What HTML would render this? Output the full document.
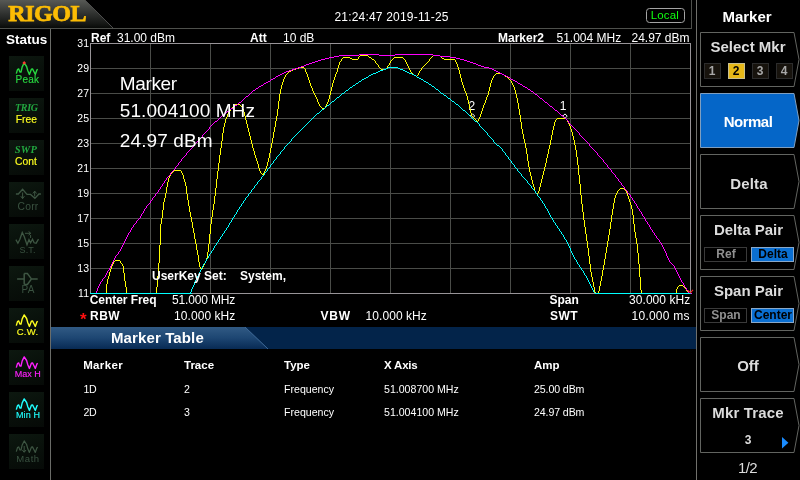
<!DOCTYPE html>
<html><head><meta charset="utf-8"><title>RIGOL Marker</title>
<style>
html,body{margin:0;padding:0;background:#000;}
body{width:800px;height:480px;position:relative;overflow:hidden;font-family:"Liberation Sans",sans-serif;}
.t{position:absolute;white-space:nowrap;line-height:1;}
.a{position:absolute;}
.sb{position:absolute;left:9px;width:35px;height:35px;background:linear-gradient(160deg,#0d1810 0%,#09110b 45%,#060a07 100%);}
</style></head><body>
<div class="sb" style="top:56px"></div><div class="sb" style="top:98px"></div><div class="sb" style="top:140px"></div><div class="sb" style="top:182px"></div><div class="sb" style="top:224px"></div><div class="sb" style="top:266px"></div><div class="sb" style="top:308px"></div><div class="sb" style="top:350px"></div><div class="sb" style="top:392px"></div><div class="sb" style="top:434px"></div>
<svg class="a" style="left:0;top:0" width="800" height="480" viewBox="0 0 800 480">
<defs><linearGradient id="lg" x1="0" y1="0" x2="0" y2="1"><stop offset="0" stop-color="#575955"/><stop offset="0.5" stop-color="#2f312f"/><stop offset="0.85" stop-color="#151715"/><stop offset="1" stop-color="#080a08"/></linearGradient>
<linearGradient id="mt" x1="0" y1="0" x2="0" y2="1"><stop offset="0" stop-color="#315a84"/><stop offset="0.5" stop-color="#1d4672"/><stop offset="1" stop-color="#082a54"/></linearGradient></defs>
<polygon points="0,0 85,0 113,28 0,28" fill="url(#lg)"/><line x1="85" y1="0" x2="113.5" y2="28.5" stroke="#4c4c4c" stroke-width="1"/>
<rect x="0" y="28" width="692" height="1" fill="#4e504c"/>
<rect x="691" y="0" width="1" height="29" fill="#4e504c"/>
<rect x="50" y="29" width="1" height="451" fill="#6a6c68"/>
<rect x="696" y="0" width="1" height="480" fill="#70706c"/>
<rect x="646.5" y="8.5" width="38" height="14" rx="3" ry="3" fill="#000" stroke="#a4a4a4" stroke-width="1"/>
<rect x="51" y="327" width="645" height="22" fill="#03244a"/>
<polygon points="51,327 245,327 268,349 51,349" fill="url(#mt)"/>
<line x1="245" y1="327" x2="268" y2="349" stroke="#3f6a98" stroke-width="1"/>
<rect x="150" y="43" width="1" height="250" fill="#4a4c48"/>
<rect x="90" y="68" width="600" height="1" fill="#4a4c48"/>
<rect x="210" y="43" width="1" height="250" fill="#4a4c48"/>
<rect x="90" y="93" width="600" height="1" fill="#4a4c48"/>
<rect x="270" y="43" width="1" height="250" fill="#4a4c48"/>
<rect x="90" y="118" width="600" height="1" fill="#4a4c48"/>
<rect x="330" y="43" width="1" height="250" fill="#4a4c48"/>
<rect x="90" y="143" width="600" height="1" fill="#4a4c48"/>
<rect x="390" y="43" width="1" height="250" fill="#4a4c48"/>
<rect x="90" y="168" width="600" height="1" fill="#4a4c48"/>
<rect x="450" y="43" width="1" height="250" fill="#4a4c48"/>
<rect x="90" y="193" width="600" height="1" fill="#4a4c48"/>
<rect x="510" y="43" width="1" height="250" fill="#4a4c48"/>
<rect x="90" y="218" width="600" height="1" fill="#4a4c48"/>
<rect x="570" y="43" width="1" height="250" fill="#4a4c48"/>
<rect x="90" y="243" width="600" height="1" fill="#4a4c48"/>
<rect x="630" y="43" width="1" height="250" fill="#4a4c48"/>
<rect x="90" y="268" width="600" height="1" fill="#4a4c48"/>
<rect x="90" y="43" width="601" height="1" fill="#989498"/>
<rect x="90" y="293" width="601" height="1" fill="#989498"/>
<rect x="90" y="43" width="1" height="251" fill="#989498"/>
<rect x="690" y="43" width="1" height="251" fill="#989498"/>
<polygon points="472.5,113.8 474.7,116 472.5,118.2 470.3,116" fill="none" stroke="#fff" stroke-width="1"/>
<polygon points="565,113.9 567.2,116.1 565,118.3 562.8,116.1" fill="none" stroke="#fff" stroke-width="1"/>
<text x="468.6" y="110" font-family="Liberation Sans, sans-serif" font-size="12" fill="#fff">2</text>
<text x="559.8" y="110" font-family="Liberation Sans, sans-serif" font-size="12" fill="#fff">1</text>
<g shape-rendering="crispEdges">
<path d="M106.5 284V294M107.5 279V284M108.5 276V279M109.5 272V276M110.5 269V272M111.5 266V269M112.5 264V266M113.5 262V264M114.5 261V262M115.5 260V261M116.5 260V261M117.5 260V261M118.5 260V261M119.5 260V261M120.5 261V263M121.5 263V264M122.5 264V266M123.5 266V273M124.5 273V281M125.5 281V287M126.5 287V293M127.5 293V294M128.5 293V294" fill="none" stroke="#ffff00" stroke-width="1"/>
<path d="M156.5 287V294M157.5 276V287M158.5 263V276M159.5 245V263M160.5 224V245M161.5 218V224M162.5 210V218M163.5 202V210M164.5 198V202M165.5 193V198M166.5 187V193M167.5 182V187M168.5 178V182M169.5 176V178M170.5 174V176M171.5 173V174M172.5 172V173M173.5 171V172M174.5 170V171M175.5 170V171M176.5 170V171M177.5 170V171M178.5 170V171M179.5 170V171M180.5 170V171M181.5 171V173M182.5 173V175M183.5 175V179M184.5 179V182M185.5 182V186M186.5 186V194M187.5 194V200M188.5 200V206M189.5 206V212M190.5 212V217M191.5 217V222M192.5 222V228M193.5 228V233M194.5 233V239M195.5 239V244M196.5 244V250M197.5 250V255M198.5 255V262M199.5 262V267M200.5 267V269M201.5 269V270M202.5 267V269M203.5 265V267M204.5 263V265M205.5 261V263M206.5 258V261M207.5 252V258M208.5 244V252M209.5 234V244M210.5 224V234M211.5 217V224M212.5 210V217M213.5 204V210M214.5 196V204M215.5 188V196M216.5 179V188M217.5 171V179M218.5 163V171M219.5 155V163M220.5 148V155M221.5 141V148M222.5 133V141M223.5 127V133M224.5 123V127M225.5 119V123M226.5 117V119M227.5 114V117M228.5 112V114M229.5 111V112M230.5 109V111M231.5 108V109M232.5 107V108M233.5 106V107M234.5 105V106M235.5 104V105M236.5 104V105M237.5 104V105M238.5 104V105M239.5 104V105M240.5 105V106M241.5 106V107M242.5 107V109M243.5 109V112M244.5 112V116M245.5 116V120M246.5 120V124M247.5 124V128M248.5 128V132M249.5 132V136M250.5 136V140M251.5 140V144M252.5 144V148M253.5 148V151M254.5 151V155M255.5 155V158M256.5 158V161M257.5 161V164M258.5 164V168M259.5 168V171M260.5 171V173M261.5 173V174M262.5 174V175M263.5 173V175M264.5 171V173M265.5 169V171M266.5 166V169M267.5 162V166M268.5 158V162M269.5 153V158M270.5 148V153M271.5 143V148M272.5 138V143M273.5 132V138M274.5 127V132M275.5 121V127M276.5 116V121M277.5 109V116M278.5 101V109M279.5 94V101M280.5 89V94M281.5 85V89M282.5 82V85M283.5 79V82M284.5 77V79M285.5 75V77M286.5 74V75M287.5 73V74M288.5 72V73M289.5 71V72M290.5 71V72M291.5 70V71M292.5 70V71M293.5 69V70M294.5 69V70M295.5 69V70M296.5 68V69M297.5 68V69M298.5 68V69M299.5 67V68M300.5 67V68M301.5 67V68M302.5 67V68M303.5 67V68M304.5 68V69M305.5 69V72M306.5 72V74M307.5 74V77M308.5 77V80M309.5 80V83M310.5 83V86M311.5 86V88M312.5 88V91M313.5 91V93M314.5 93V95M315.5 95V97M316.5 97V99M317.5 99V102M318.5 102V104M319.5 104V106M320.5 106V107M321.5 107V108M322.5 108V109M323.5 108V109M324.5 108V109M325.5 106V108M326.5 104V106M327.5 102V104M328.5 99V102M329.5 95V99M330.5 91V95M331.5 87V91M332.5 83V87M333.5 80V83M334.5 77V80M335.5 74V77M336.5 72V74M337.5 68V72M338.5 65V68M339.5 62V65M340.5 61V62M341.5 59V61M342.5 58V59M343.5 57V58M344.5 57V58M345.5 57V58M346.5 57V58M347.5 57V58M348.5 57V58M349.5 57V58M350.5 58V59M351.5 58V59M352.5 59V60M353.5 59V60M354.5 59V60M355.5 59V60M356.5 59V60M357.5 59V60M358.5 57V59M359.5 56V57M360.5 55V56M361.5 55V56M362.5 55V56M363.5 55V56M364.5 55V56M365.5 55V56M366.5 55V56M367.5 55V56M368.5 56V57M369.5 57V58M370.5 57V58M371.5 58V59M372.5 59V60M373.5 59V60M374.5 60V61M375.5 61V63M376.5 63V64M377.5 64V65M378.5 65V67M379.5 67V68M380.5 68V69M381.5 69V70M382.5 69V70M383.5 69V70M384.5 69V70M385.5 69V70M386.5 68V69M387.5 66V68M388.5 65V66M389.5 63V65M390.5 61V63M391.5 60V61M392.5 59V60M393.5 58V59M394.5 57V58M395.5 57V58M396.5 57V58M397.5 57V58M398.5 57V58M399.5 57V58M400.5 57V58M401.5 57V58M402.5 57V58M403.5 58V59M404.5 59V60M405.5 60V62M406.5 62V64M407.5 64V66M408.5 66V68M409.5 68V70M410.5 70V72M411.5 72V73M412.5 73V74M413.5 74V75M414.5 75V76M415.5 75V76M416.5 76V77M417.5 75V76M418.5 73V75M419.5 71V73M420.5 70V71M421.5 68V70M422.5 67V68M423.5 66V67M424.5 65V66M425.5 64V65M426.5 63V64M427.5 62V63M428.5 61V62M429.5 59V61M430.5 58V59M431.5 57V58M432.5 56V57M433.5 55V56M434.5 55V56M435.5 55V56M436.5 55V56M437.5 55V56M438.5 55V56M439.5 55V56M440.5 56V57M441.5 57V58M442.5 58V59M443.5 58V59M444.5 59V60M445.5 59V60M446.5 59V60M447.5 59V60M448.5 59V60M449.5 59V60M450.5 59V60M451.5 59V60M452.5 59V60M453.5 59V60M454.5 59V60M455.5 60V62M456.5 62V64M457.5 64V67M458.5 67V70M459.5 70V74M460.5 74V78M461.5 78V82M462.5 82V85M463.5 85V88M464.5 88V91M465.5 91V93M466.5 93V96M467.5 96V100M468.5 100V104M469.5 104V109M470.5 109V113M471.5 113V116M472.5 116V117M473.5 117V118M474.5 118V119M475.5 119V120M476.5 120V121M477.5 121V122M478.5 119V121M479.5 117V119M480.5 114V117M481.5 111V114M482.5 108V111M483.5 105V108M484.5 103V105M485.5 100V103M486.5 97V100M487.5 95V97M488.5 91V95M489.5 87V91M490.5 83V87M491.5 80V83M492.5 78V80M493.5 76V78M494.5 75V76M495.5 74V75M496.5 73V74M497.5 73V74M498.5 73V74M499.5 73V74M500.5 73V74M501.5 73V74M502.5 74V75M503.5 74V75M504.5 75V76M505.5 76V77M506.5 76V77M507.5 77V78M508.5 78V79M509.5 79V80M510.5 80V81M511.5 81V83M512.5 83V85M513.5 85V87M514.5 87V90M515.5 90V94M516.5 94V98M517.5 98V103M518.5 103V109M519.5 109V115M520.5 115V122M521.5 122V129M522.5 129V134M523.5 134V139M524.5 139V143M525.5 143V148M526.5 148V154M527.5 154V161M528.5 161V167M529.5 167V172M530.5 172V176M531.5 176V180M532.5 180V184M533.5 184V187M534.5 187V191M535.5 191V193M536.5 193V194M537.5 193V194M538.5 191V193M539.5 187V191M540.5 183V187M541.5 179V183M542.5 175V179M543.5 171V175M544.5 167V171M545.5 163V167M546.5 158V163M547.5 154V158M548.5 149V154M549.5 145V149M550.5 140V145M551.5 135V140M552.5 130V135M553.5 126V130M554.5 122V126M555.5 120V122M556.5 119V120M557.5 118V119M558.5 118V119M559.5 118V119M560.5 118V119M561.5 118V119M562.5 118V119M563.5 118V119M564.5 118V119M565.5 118V119M566.5 119V120M567.5 120V122M568.5 122V124M569.5 124V126M570.5 126V129M571.5 129V132M572.5 132V136M573.5 136V140M574.5 140V145M575.5 145V150M576.5 150V157M577.5 157V165M578.5 165V175M579.5 175V184M580.5 184V195M581.5 195V204M582.5 204V212M583.5 212V220M584.5 220V227M585.5 227V234M586.5 234V241M587.5 241V248M588.5 248V256M589.5 256V264M590.5 264V272M591.5 272V277M592.5 277V282M593.5 282V287M594.5 287V292M595.5 292V293M596.5 293V294" fill="none" stroke="#ffff00" stroke-width="1"/>
<path d="M597.5 293V294M598.5 291V294M599.5 286V291M600.5 281V286M601.5 276V281M602.5 270V276M603.5 265V270M604.5 259V265M605.5 253V259M606.5 247V253M607.5 241V247M608.5 235V241M609.5 229V235M610.5 222V229M611.5 215V222M612.5 209V215M613.5 203V209M614.5 198V203M615.5 195V198M616.5 193V195M617.5 191V193M618.5 190V191M619.5 189V190M620.5 188V189M621.5 188V189M622.5 188V189M623.5 188V189M624.5 189V190M625.5 190V191M626.5 191V193M627.5 193V196M628.5 196V199M629.5 199V202M630.5 202V205M631.5 205V209M632.5 209V215M633.5 215V224M634.5 224V232M635.5 232V238M636.5 238V244M637.5 244V253M638.5 253V264M639.5 264V277M640.5 277V290M641.5 290V293M642.5 293V294" fill="none" stroke="#ffff00" stroke-width="1"/>
<path d="M675.5 293V294M676.5 289V293M677.5 287V289M678.5 286V287M679.5 285V286M680.5 285V286M681.5 285V286M682.5 285V286M683.5 286V287M684.5 287V288M685.5 288V289M686.5 289V291M687.5 291V292M688.5 292V293M689.5 293V294M690.5 293V294" fill="none" stroke="#ffff00" stroke-width="1"/>
<path d="M94.5 293V294M95.5 293V294M96.5 291V294M97.5 288V291M98.5 286V288M99.5 284V286M100.5 282V284M101.5 281V282M102.5 279V281M103.5 278V279M104.5 277V278M105.5 275V277M106.5 273V275M107.5 271V273M108.5 270V271M109.5 268V270M110.5 266V268M111.5 264V266M112.5 262V264M113.5 260V262M114.5 258V260M115.5 256V258M116.5 255V256M117.5 254V255M118.5 252V254M119.5 251V252M120.5 249V251M121.5 247V249M122.5 245V247M123.5 243V245M124.5 241V243M125.5 239V241M126.5 237V239M127.5 235V237M128.5 233V235M129.5 232V233M130.5 230V232M131.5 228V230M132.5 227V228M133.5 225V227M134.5 224V225M135.5 223V224M136.5 221V223M137.5 220V221M138.5 219V220M139.5 218V219M140.5 216V218M141.5 214V216M142.5 213V214M143.5 211V213M144.5 209V211M145.5 208V209M146.5 206V208M147.5 205V206M148.5 204V205M149.5 203V204M150.5 201V203M151.5 200V201M152.5 198V200M153.5 197V198M154.5 196V197M155.5 194V196M156.5 193V194M157.5 192V193M158.5 190V192M159.5 189V190M160.5 187V189M161.5 186V187M162.5 184V186M163.5 183V184M164.5 181V183M165.5 180V181M166.5 178V180M167.5 177V178M168.5 176V177M169.5 175V176M170.5 173V175M171.5 172V173M172.5 171V172M173.5 170V171M174.5 169V170M175.5 167V169M176.5 166V167M177.5 165V166M178.5 163V165M179.5 162V163M180.5 161V162M181.5 159V161M182.5 158V159M183.5 157V158M184.5 156V157M185.5 155V156M186.5 153V155M187.5 152V153M188.5 151V152M189.5 150V151M190.5 149V150M191.5 148V149M192.5 147V148M193.5 146V147M194.5 144V146M195.5 143V144M196.5 142V143M197.5 141V142M198.5 140V141M199.5 139V140M200.5 138V139M201.5 137V138M202.5 135V137M203.5 134V135M204.5 133V134M205.5 132V133M206.5 131V132M207.5 130V131M208.5 129V130M209.5 127V129M210.5 126V127M211.5 125V126M212.5 124V125M213.5 123V124M214.5 122V123M215.5 121V122M216.5 121V122M217.5 120V121M218.5 119V120M219.5 118V119M220.5 117V118M221.5 116V117M222.5 115V116M223.5 114V115M224.5 114V115M225.5 113V114M226.5 112V113M227.5 111V112M228.5 111V112M229.5 110V111M230.5 109V110M231.5 108V109M232.5 108V109M233.5 107V108M234.5 106V107M235.5 105V106M236.5 105V106M237.5 104V105M238.5 103V104M239.5 102V103M240.5 102V103M241.5 101V102M242.5 100V101M243.5 99V100M244.5 98V99M245.5 97V98M246.5 96V97M247.5 96V97M248.5 95V96M249.5 94V95M250.5 93V94M251.5 92V93M252.5 91V92M253.5 90V91M254.5 90V91M255.5 89V90M256.5 88V89M257.5 88V89M258.5 87V88M259.5 86V87M260.5 86V87M261.5 85V86M262.5 85V86M263.5 84V85M264.5 83V84M265.5 83V84M266.5 82V83M267.5 82V83M268.5 81V82M269.5 81V82M270.5 80V81M271.5 79V80M272.5 79V80M273.5 78V79M274.5 78V79M275.5 77V78M276.5 76V77M277.5 76V77M278.5 75V76M279.5 75V76M280.5 74V75M281.5 74V75M282.5 73V74M283.5 73V74M284.5 72V73M285.5 72V73M286.5 71V72M287.5 71V72M288.5 71V72M289.5 70V71M290.5 70V71M291.5 70V71M292.5 69V70M293.5 69V70M294.5 69V70M295.5 68V69M296.5 68V69M297.5 68V69M298.5 67V68M299.5 67V68M300.5 67V68M301.5 66V67M302.5 66V67M303.5 66V67M304.5 65V66M305.5 65V66M306.5 64V65M307.5 64V65M308.5 64V65M309.5 63V64M310.5 63V64M311.5 63V64M312.5 62V63M313.5 62V63M314.5 62V63M315.5 61V62M316.5 61V62M317.5 61V62M318.5 60V61M319.5 60V61M320.5 60V61M321.5 59V60M322.5 59V60M323.5 59V60M324.5 59V60M325.5 58V59M326.5 58V59M327.5 58V59M328.5 58V59M329.5 57V58M330.5 57V58M331.5 57V58M332.5 57V58M333.5 57V58M334.5 56V57M335.5 56V57M336.5 56V57M337.5 56V57M338.5 56V57M339.5 55V56M340.5 55V56M341.5 55V56M342.5 55V56M343.5 55V56M344.5 55V56M345.5 55V56M346.5 55V56M347.5 55V56M348.5 55V56M349.5 55V56M350.5 55V56M351.5 55V56M352.5 55V56M353.5 55V56M354.5 55V56M355.5 55V56M356.5 55V56M357.5 55V56M358.5 55V56M359.5 54V55M360.5 54V55M361.5 54V55M362.5 54V55M363.5 54V55M364.5 54V55M365.5 54V55M366.5 54V55M367.5 54V55M368.5 54V55M369.5 54V55M370.5 54V55M371.5 54V55M372.5 54V55M373.5 54V55M374.5 54V55M375.5 54V55M376.5 54V55M377.5 54V55M378.5 54V55M379.5 55V56M380.5 55V56M381.5 55V56M382.5 55V56M383.5 55V56M384.5 55V56M385.5 55V56M386.5 55V56M387.5 55V56M388.5 55V56M389.5 55V56M390.5 55V56M391.5 55V56M392.5 55V56M393.5 55V56M394.5 55V56M395.5 54V55M396.5 54V55M397.5 54V55M398.5 54V55M399.5 54V55M400.5 54V55M401.5 54V55M402.5 54V55M403.5 54V55M404.5 54V55M405.5 54V55M406.5 54V55M407.5 54V55M408.5 54V55M409.5 54V55M410.5 54V55M411.5 54V55M412.5 54V55M413.5 54V55M414.5 54V55M415.5 54V55M416.5 54V55M417.5 54V55M418.5 54V55M419.5 54V55M420.5 54V55M421.5 54V55M422.5 54V55M423.5 54V55M424.5 54V55M425.5 54V55M426.5 54V55M427.5 54V55M428.5 54V55M429.5 54V55M430.5 54V55M431.5 54V55M432.5 54V55M433.5 55V56M434.5 55V56M435.5 55V56M436.5 55V56M437.5 55V56M438.5 55V56M439.5 55V56M440.5 56V57M441.5 56V57M442.5 56V57M443.5 56V57M444.5 56V57M445.5 56V57M446.5 56V57M447.5 56V57M448.5 56V57M449.5 56V57M450.5 57V58M451.5 57V58M452.5 57V58M453.5 57V58M454.5 57V58M455.5 57V58M456.5 58V59M457.5 58V59M458.5 58V59M459.5 58V59M460.5 59V60M461.5 59V60M462.5 59V60M463.5 59V60M464.5 60V61M465.5 60V61M466.5 60V61M467.5 61V62M468.5 61V62M469.5 61V62M470.5 62V63M471.5 62V63M472.5 62V63M473.5 63V64M474.5 63V64M475.5 63V64M476.5 64V65M477.5 64V65M478.5 65V66M479.5 65V66M480.5 65V66M481.5 66V67M482.5 66V67M483.5 66V67M484.5 67V68M485.5 67V68M486.5 67V68M487.5 67V68M488.5 67V68M489.5 68V69M490.5 68V69M491.5 68V69M492.5 69V70M493.5 69V70M494.5 70V71M495.5 70V71M496.5 71V72M497.5 71V72M498.5 72V73M499.5 72V73M500.5 73V74M501.5 73V74M502.5 74V75M503.5 74V75M504.5 75V76M505.5 75V76M506.5 76V77M507.5 76V77M508.5 77V78M509.5 77V78M510.5 78V79M511.5 79V80M512.5 79V80M513.5 80V81M514.5 80V81M515.5 81V82M516.5 81V82M517.5 82V83M518.5 83V84M519.5 83V84M520.5 84V85M521.5 84V85M522.5 85V86M523.5 86V87M524.5 86V87M525.5 87V88M526.5 87V88M527.5 88V89M528.5 89V90M529.5 89V90M530.5 90V91M531.5 91V92M532.5 91V92M533.5 92V93M534.5 93V94M535.5 94V95M536.5 94V95M537.5 95V96M538.5 96V97M539.5 97V98M540.5 98V99M541.5 98V99M542.5 99V100M543.5 100V101M544.5 101V102M545.5 102V103M546.5 102V103M547.5 103V104M548.5 104V105M549.5 105V106M550.5 106V107M551.5 106V107M552.5 107V108M553.5 108V109M554.5 109V110M555.5 110V111M556.5 110V111M557.5 111V112M558.5 112V113M559.5 113V114M560.5 114V115M561.5 115V116M562.5 115V116M563.5 116V117M564.5 117V118M565.5 118V119M566.5 119V120M567.5 120V121M568.5 121V123M569.5 123V124M570.5 124V125M571.5 125V126M572.5 126V127M573.5 127V128M574.5 128V129M575.5 129V130M576.5 130V131M577.5 131V132M578.5 132V133M579.5 133V135M580.5 135V136M581.5 136V137M582.5 137V138M583.5 138V139M584.5 139V140M585.5 140V141M586.5 141V142M587.5 142V143M588.5 143V144M589.5 144V146M590.5 146V147M591.5 147V148M592.5 148V149M593.5 149V150M594.5 150V151M595.5 151V152M596.5 152V153M597.5 153V155M598.5 155V156M599.5 156V157M600.5 157V158M601.5 158V159M602.5 159V160M603.5 160V162M604.5 162V163M605.5 163V164M606.5 164V165M607.5 165V167M608.5 167V168M609.5 168V169M610.5 169V170M611.5 170V172M612.5 172V173M613.5 173V174M614.5 174V175M615.5 175V177M616.5 177V178M617.5 178V179M618.5 179V181M619.5 181V182M620.5 182V183M621.5 183V185M622.5 185V186M623.5 186V187M624.5 187V189M625.5 189V190M626.5 190V191M627.5 191V193M628.5 193V194M629.5 194V195M630.5 195V197M631.5 197V198M632.5 198V200M633.5 200V201M634.5 201V203M635.5 203V204M636.5 204V206M637.5 206V208M638.5 208V209M639.5 209V211M640.5 211V212M641.5 212V214M642.5 214V216M643.5 216V217M644.5 217V219M645.5 219V221M646.5 221V222M647.5 222V224M648.5 224V225M649.5 225V227M650.5 227V229M651.5 229V230M652.5 230V232M653.5 232V233M654.5 233V235M655.5 235V236M656.5 236V238M657.5 238V239M658.5 239V240M659.5 240V242M660.5 242V243M661.5 243V245M662.5 245V247M663.5 247V249M664.5 249V251M665.5 251V253M666.5 253V256M667.5 256V258M668.5 258V260M669.5 260V262M670.5 262V263M671.5 263V264M672.5 264V265M673.5 265V266M674.5 266V268M675.5 268V270M676.5 270V272M677.5 272V274M678.5 274V276M679.5 276V278M680.5 278V280M681.5 280V282M682.5 282V283M683.5 283V285M684.5 285V287M685.5 287V288M686.5 288V290M687.5 290V291M688.5 291V293M689.5 293V294M690.5 293V294M691.5 293V294" fill="none" stroke="#ff00ff" stroke-width="1"/>
<path d="M187.5 293V294M188.5 293V294M189.5 293V294M190.5 292V294M191.5 289V292M192.5 287V289M193.5 285V287M194.5 282V285M195.5 280V282M196.5 278V280M197.5 276V278M198.5 274V276M199.5 272V274M200.5 270V272M201.5 268V270M202.5 266V268M203.5 264V266M204.5 263V264M205.5 261V263M206.5 259V261M207.5 258V259M208.5 256V258M209.5 254V256M210.5 253V254M211.5 251V253M212.5 250V251M213.5 248V250M214.5 246V248M215.5 245V246M216.5 243V245M217.5 242V243M218.5 240V242M219.5 239V240M220.5 237V239M221.5 236V237M222.5 234V236M223.5 233V234M224.5 231V233M225.5 230V231M226.5 228V230M227.5 227V228M228.5 225V227M229.5 223V225M230.5 222V223M231.5 220V222M232.5 218V220M233.5 217V218M234.5 215V217M235.5 214V215M236.5 212V214M237.5 210V212M238.5 209V210M239.5 207V209M240.5 206V207M241.5 204V206M242.5 203V204M243.5 201V203M244.5 200V201M245.5 198V200M246.5 197V198M247.5 196V197M248.5 194V196M249.5 193V194M250.5 192V193M251.5 190V192M252.5 189V190M253.5 188V189M254.5 186V188M255.5 185V186M256.5 184V185M257.5 182V184M258.5 181V182M259.5 180V181M260.5 179V180M261.5 177V179M262.5 176V177M263.5 175V176M264.5 173V175M265.5 172V173M266.5 171V172M267.5 169V171M268.5 168V169M269.5 167V168M270.5 165V167M271.5 164V165M272.5 163V164M273.5 161V163M274.5 160V161M275.5 159V160M276.5 157V159M277.5 156V157M278.5 155V156M279.5 154V155M280.5 152V154M281.5 151V152M282.5 150V151M283.5 149V150M284.5 147V149M285.5 146V147M286.5 145V146M287.5 144V145M288.5 143V144M289.5 142V143M290.5 141V142M291.5 139V141M292.5 138V139M293.5 137V138M294.5 136V137M295.5 135V136M296.5 134V135M297.5 133V134M298.5 132V133M299.5 131V132M300.5 130V131M301.5 129V130M302.5 128V129M303.5 127V128M304.5 126V127M305.5 125V126M306.5 124V125M307.5 123V124M308.5 122V123M309.5 121V122M310.5 120V121M311.5 119V120M312.5 118V119M313.5 117V118M314.5 116V117M315.5 115V116M316.5 114V115M317.5 113V114M318.5 113V114M319.5 112V113M320.5 111V112M321.5 110V111M322.5 109V110M323.5 109V110M324.5 108V109M325.5 107V108M326.5 106V107M327.5 105V106M328.5 105V106M329.5 104V105M330.5 103V104M331.5 102V103M332.5 101V102M333.5 101V102M334.5 100V101M335.5 99V100M336.5 98V99M337.5 97V98M338.5 97V98M339.5 96V97M340.5 95V96M341.5 94V95M342.5 93V94M343.5 93V94M344.5 92V93M345.5 91V92M346.5 90V91M347.5 90V91M348.5 89V90M349.5 88V89M350.5 87V88M351.5 87V88M352.5 86V87M353.5 85V86M354.5 85V86M355.5 84V85M356.5 83V84M357.5 83V84M358.5 82V83M359.5 81V82M360.5 81V82M361.5 80V81M362.5 79V80M363.5 79V80M364.5 78V79M365.5 78V79M366.5 77V78M367.5 77V78M368.5 76V77M369.5 75V76M370.5 75V76M371.5 74V75M372.5 74V75M373.5 73V74M374.5 73V74M375.5 73V74M376.5 72V73M377.5 72V73M378.5 71V72M379.5 71V72M380.5 70V71M381.5 70V71M382.5 70V71M383.5 69V70M384.5 69V70M385.5 69V70M386.5 68V69M387.5 68V69M388.5 67V68M389.5 67V68M390.5 67V68M391.5 67V68M392.5 67V68M393.5 67V68M394.5 67V68M395.5 67V68M396.5 67V68M397.5 67V68M398.5 68V69M399.5 68V69M400.5 69V70M401.5 69V70M402.5 69V70M403.5 70V71M404.5 70V71M405.5 71V72M406.5 71V72M407.5 72V73M408.5 72V73M409.5 73V74M410.5 73V74M411.5 73V74M412.5 74V75M413.5 74V75M414.5 75V76M415.5 75V76M416.5 76V77M417.5 77V78M418.5 77V78M419.5 78V79M420.5 78V79M421.5 79V80M422.5 79V80M423.5 80V81M424.5 81V82M425.5 81V82M426.5 82V83M427.5 82V83M428.5 83V84M429.5 84V85M430.5 84V85M431.5 85V86M432.5 86V87M433.5 86V87M434.5 87V88M435.5 88V89M436.5 89V90M437.5 89V90M438.5 90V91M439.5 91V92M440.5 92V93M441.5 93V94M442.5 93V94M443.5 94V95M444.5 95V96M445.5 95V96M446.5 96V97M447.5 97V98M448.5 98V99M449.5 98V99M450.5 99V100M451.5 100V101M452.5 101V102M453.5 101V102M454.5 102V103M455.5 103V104M456.5 104V105M457.5 104V105M458.5 105V106M459.5 106V107M460.5 107V108M461.5 108V109M462.5 109V110M463.5 110V111M464.5 110V111M465.5 111V112M466.5 112V113M467.5 113V114M468.5 114V115M469.5 115V116M470.5 116V117M471.5 117V118M472.5 118V119M473.5 119V120M474.5 120V121M475.5 121V122M476.5 121V122M477.5 122V123M478.5 123V124M479.5 124V126M480.5 126V127M481.5 127V128M482.5 128V129M483.5 129V130M484.5 130V131M485.5 131V132M486.5 132V133M487.5 133V135M488.5 135V136M489.5 136V137M490.5 137V138M491.5 138V139M492.5 139V140M493.5 140V142M494.5 142V143M495.5 143V144M496.5 144V145M497.5 145V146M498.5 145V146M499.5 146V147M500.5 147V148M501.5 148V149M502.5 149V151M503.5 151V152M504.5 152V153M505.5 153V155M506.5 155V156M507.5 156V157M508.5 157V159M509.5 159V160M510.5 160V161M511.5 161V163M512.5 163V164M513.5 164V165M514.5 165V167M515.5 167V168M516.5 168V169M517.5 169V171M518.5 171V172M519.5 172V173M520.5 173V174M521.5 174V176M522.5 176V177M523.5 177V178M524.5 178V179M525.5 179V180M526.5 180V181M527.5 181V183M528.5 183V184M529.5 184V185M530.5 185V186M531.5 186V188M532.5 188V189M533.5 189V190M534.5 190V191M535.5 191V193M536.5 193V194M537.5 194V196M538.5 196V197M539.5 197V198M540.5 198V200M541.5 200V201M542.5 201V203M543.5 203V204M544.5 204V206M545.5 206V208M546.5 208V209M547.5 209V211M548.5 211V213M549.5 213V215M550.5 215V217M551.5 217V218M552.5 218V220M553.5 220V222M554.5 222V223M555.5 223V225M556.5 225V226M557.5 226V228M558.5 228V229M559.5 229V231M560.5 231V232M561.5 232V234M562.5 234V235M563.5 235V237M564.5 237V239M565.5 239V240M566.5 240V242M567.5 242V244M568.5 244V246M569.5 246V248M570.5 248V251M571.5 251V253M572.5 253V255M573.5 255V257M574.5 257V259M575.5 259V260M576.5 260V262M577.5 262V264M578.5 264V265M579.5 265V267M580.5 267V268M581.5 268V270M582.5 270V271M583.5 271V273M584.5 273V275M585.5 275V276M586.5 276V278M587.5 278V280M588.5 280V282M589.5 282V284M590.5 284V286M591.5 286V288M592.5 288V290M593.5 290V292M594.5 292V293M595.5 293V294M596.5 293V294M597.5 293V294M598.5 293V294" fill="none" stroke="#00ffff" stroke-width="1"/>
<rect x="90" y="293" width="102" height="1" fill="#00ffff"/>
<rect x="596" y="293" width="95" height="1" fill="#00ffff"/>
</g>
<polyline points="688,290.3 690.4,292.8 693,289.8" fill="none" stroke="#ff2020" stroke-width="1.1"/>
<polygon points="700.5,32.5 794,32.5 799,59.5 794,86.5 700.5,86.5" fill="#000" stroke="#626460" stroke-width="1"/>
<polygon points="700.5,93.5 794,93.5 799,120.5 794,147.5 700.5,147.5" fill="#0566c8" stroke="#7f9fc0" stroke-width="1"/>
<polygon points="700.5,154.5 794,154.5 799,181.5 794,208.5 700.5,208.5" fill="#000" stroke="#626460" stroke-width="1"/>
<polygon points="700.5,215.5 794,215.5 799,242.5 794,269.5 700.5,269.5" fill="#000" stroke="#626460" stroke-width="1"/>
<polygon points="700.5,276.5 794,276.5 799,303.5 794,330.5 700.5,330.5" fill="#000" stroke="#626460" stroke-width="1"/>
<polygon points="700.5,337.5 794,337.5 799,364.5 794,391.5 700.5,391.5" fill="#000" stroke="#626460" stroke-width="1"/>
<polygon points="700.5,398.5 794,398.5 799,425.5 794,452.5 700.5,452.5" fill="#000" stroke="#626460" stroke-width="1"/>
<rect x="704.5" y="63.5" width="16" height="15" fill="#17130d" stroke="#2c2c2c"/>
<rect x="728.5" y="63.5" width="16" height="15" fill="#e6b818" stroke="#c8c090"/>
<rect x="752.5" y="63.5" width="16" height="15" fill="#17130d" stroke="#2c2c2c"/>
<rect x="776.5" y="63.5" width="16" height="15" fill="#17130d" stroke="#2c2c2c"/>
<rect x="704.5" y="247.5" width="42" height="14" fill="#000" stroke="#3a3a3a"/>
<rect x="751.5" y="247.5" width="42" height="14" fill="#0a6fd2" stroke="#8aa8c8"/>
<rect x="704.5" y="308.5" width="42" height="14" fill="#000" stroke="#3a3a3a"/>
<rect x="751.5" y="308.5" width="42" height="14" fill="#0a6fd2" stroke="#8aa8c8"/>
<polygon points="782,437 782,448.4 788.4,442.7" fill="#1a8cff"/>
<polyline points="16.3,73.6 17.5,69.6 18.7,68.9 19.9,72.0 21.0,72.0 22.2,66.9 24.2,62.9 26.6,66.5 27.8,70.8 29.4,74.4 31.4,69.2 32.5,68.9 34.1,72.0 35.3,74.4 36.9,70.0 37.7,69.2" fill="none" stroke="#28d840" stroke-width="1.4" stroke-linejoin="round"/>
<polygon points="24.2,61 26,62.9 24.2,64.8 22.4,62.9" fill="#ff3a30"/>
<polyline points="16.3,325.6 17.5,321.6 18.7,320.9 19.9,324.0 21.0,324.0 22.2,318.9 24.2,314.9 26.6,318.5 27.8,322.8 29.4,326.4 31.4,321.2 32.5,320.9 34.1,324.0 35.3,326.4 36.9,322.0 37.7,321.2" fill="none" stroke="#ffff20" stroke-width="1.4" stroke-linejoin="round"/>
<polyline points="16.3,367.6 17.5,363.6 18.7,362.9 19.9,366.0 21.0,366.0 22.2,360.9 24.2,356.9 26.6,360.5 27.8,364.8 29.4,368.4 31.4,363.2 32.5,362.9 34.1,366.0 35.3,368.4 36.9,364.0 37.7,363.2" fill="none" stroke="#ff20ff" stroke-width="1.4" stroke-linejoin="round"/>
<polyline points="16.3,409.6 17.5,405.6 18.7,404.9 19.9,408.0 21.0,408.0 22.2,402.9 24.2,398.9 26.6,402.5 27.8,406.8 29.4,410.4 31.4,405.2 32.5,404.9 34.1,408.0 35.3,410.4 36.9,406.0 37.7,405.2" fill="none" stroke="#20ffff" stroke-width="1.4" stroke-linejoin="round"/>
<polyline points="16.3,451.6 17.5,447.6 18.7,446.9 19.9,450.0 21.0,450.0 22.2,444.9 24.2,440.9 26.6,444.5 27.8,448.8 29.4,452.4 31.4,447.2 32.5,446.9 34.1,450.0 35.3,452.4 36.9,448.0 37.7,447.2" fill="none" stroke="#3e5643" stroke-width="1.2" stroke-linejoin="round"/>
<path d="M24.2,446 V452 M22.4,450 L24.2,452.3 L26,450" fill="none" stroke="#3e5643" stroke-width="1"/>
<polyline points="15.9,239.6 17.9,243.2 19.9,239.2 22.25,232.5 24.2,236.5 27,244.8 29,239.6 30.6,242.8 32.5,239.2 34.1,242.8 36.1,243.2 38.5,239.2" fill="none" stroke="#3e5643" stroke-width="1.3"/>
<path d="M25,233.3 H30.6 M28.6,231.5 L30.8,233.3 L28.6,235.1 M30.6,235 V238" fill="none" stroke="#3e5643" stroke-width="1"/>
<polyline points="15.9,194 18.3,194 22.6,189.3 27,194.4 30.6,194.4 34.9,198.4 38.9,194 40.9,194" fill="none" stroke="#3e5643" stroke-width="1.3"/>
<path d="M22.6,192.5 V198.4 M20.8,196.2 L22.6,198.6 L24.4,196.2 M34.7,191.3 V196.5 M32.9,193.5 L34.7,191.1 L36.5,193.5" fill="none" stroke="#3e5643" stroke-width="1"/>
<path d="M17.1,278.9 H24.2 M24.2,273.5 V284.4 M24.2,273.5 H27.4 L31.4,278.9 L27.4,284.4 H24.2 M31.4,278.9 H37.7" fill="none" stroke="#3e5643" stroke-width="1.5"/>
</svg>
<div class="t" style="top:0.78px;font-size:24px;color:#fcbc04;font-weight:bold;letter-spacing:-0.45px;font-family:'Liberation Serif', serif;left:8.3px;-webkit-text-stroke:0.75px #fcbc04;">RIGOL</div>
<div class="t" style="top:33.07px;font-size:13.5px;color:#fff;font-weight:bold;left:6px;">Status</div>
<div class="t" style="top:10.84px;font-size:12px;color:#fff;letter-spacing:0.19px;left:334.5px;">21:24:47 2019-11-25</div>
<div class="t" style="top:10.27px;font-size:11.5px;color:#10ff10;letter-spacing:0.1px;left:650.8px;">Local</div>
<div class="t" style="top:31.84px;font-size:12px;color:#fff;font-weight:bold;left:91px;">Ref</div>
<div class="t" style="top:31.84px;font-size:12px;color:#fff;left:117px;">31.00 dBm</div>
<div class="t" style="top:31.84px;font-size:12px;color:#fff;font-weight:bold;left:250px;">Att</div>
<div class="t" style="top:31.84px;font-size:12px;color:#fff;left:283px;">10 dB</div>
<div class="t" style="top:31.84px;font-size:12px;color:#fff;font-weight:bold;left:498px;">Marker2</div>
<div class="t" style="top:31.84px;font-size:12px;color:#fff;left:556.5px;">51.004 MHz</div>
<div class="t" style="top:31.84px;font-size:12px;color:#fff;right:110.5px;">24.97 dBm</div>
<div class="t" style="top:38.11px;font-size:10.5px;color:#fff;right:711px;">31</div>
<div class="t" style="top:63.11px;font-size:10.5px;color:#fff;right:711px;">29</div>
<div class="t" style="top:88.11px;font-size:10.5px;color:#fff;right:711px;">27</div>
<div class="t" style="top:113.11px;font-size:10.5px;color:#fff;right:711px;">25</div>
<div class="t" style="top:138.11px;font-size:10.5px;color:#fff;right:711px;">23</div>
<div class="t" style="top:163.11px;font-size:10.5px;color:#fff;right:711px;">21</div>
<div class="t" style="top:188.11px;font-size:10.5px;color:#fff;right:711px;">19</div>
<div class="t" style="top:213.11px;font-size:10.5px;color:#fff;right:711px;">17</div>
<div class="t" style="top:238.11px;font-size:10.5px;color:#fff;right:711px;">15</div>
<div class="t" style="top:263.11px;font-size:10.5px;color:#fff;right:711px;">13</div>
<div class="t" style="top:288.11px;font-size:10.5px;color:#fff;right:711px;">11</div>
<div class="t" style="top:74.42px;font-size:19px;color:#fff;letter-spacing:-0.35px;left:119.8px;">Marker</div>
<div class="t" style="top:101.42px;font-size:19px;color:#fff;letter-spacing:0.08px;left:119.8px;">51.004100 MHz</div>
<div class="t" style="top:131.42px;font-size:19px;color:#fff;letter-spacing:0.1px;left:119.8px;">24.97 dBm</div>
<div class="t" style="top:269.54px;font-size:12px;color:#fff;font-weight:bold;left:152px;">UserKey Set:</div>
<div class="t" style="top:269.54px;font-size:12px;color:#fff;font-weight:bold;left:240px;">System,</div>
<div class="t" style="top:294.34px;font-size:12px;color:#fff;font-weight:bold;letter-spacing:-0.05px;left:89.7px;">Center Freq</div>
<div class="t" style="top:294.34px;font-size:12px;color:#fff;letter-spacing:-0.15px;left:172px;">51.000 MHz</div>
<div class="t" style="top:294.34px;font-size:12px;color:#fff;font-weight:bold;left:549.5px;">Span</div>
<div class="t" style="top:294.34px;font-size:12px;color:#fff;letter-spacing:0.04px;right:109.79999999999995px;">30.000 kHz</div>
<div class="t" style="top:310.51px;font-size:17px;color:#ff1010;font-weight:bold;left:79.9px;">*</div>
<div class="t" style="top:309.84px;font-size:12px;color:#fff;font-weight:bold;letter-spacing:0.5px;left:90px;">RBW</div>
<div class="t" style="top:309.84px;font-size:12px;color:#fff;letter-spacing:0.07px;left:174px;">10.000 kHz</div>
<div class="t" style="top:309.84px;font-size:12px;color:#fff;font-weight:bold;letter-spacing:0.8px;left:320.5px;">VBW</div>
<div class="t" style="top:309.84px;font-size:12px;color:#fff;letter-spacing:0.07px;left:365.5px;">10.000 kHz</div>
<div class="t" style="top:309.84px;font-size:12px;color:#fff;font-weight:bold;letter-spacing:0.4px;left:550px;">SWT</div>
<div class="t" style="top:309.84px;font-size:12px;color:#fff;letter-spacing:0.22px;right:110.39999999999998px;">10.000 ms</div>
<div class="t" style="top:330.30px;font-size:15px;color:#fff;font-weight:bold;letter-spacing:0.12px;left:111px;">Marker Table</div>
<div class="t" style="top:360.27px;font-size:11.5px;color:#fff;font-weight:bold;letter-spacing:0.35px;left:83.2px;">Marker</div>
<div class="t" style="top:360.27px;font-size:11.5px;color:#fff;font-weight:bold;left:184px;">Trace</div>
<div class="t" style="top:360.27px;font-size:11.5px;color:#fff;font-weight:bold;left:284px;">Type</div>
<div class="t" style="top:360.27px;font-size:11.5px;color:#fff;font-weight:bold;letter-spacing:-0.2px;left:384px;">X Axis</div>
<div class="t" style="top:360.27px;font-size:11.5px;color:#fff;font-weight:bold;left:534px;">Amp</div>
<div class="t" style="top:384.03px;font-size:10.6px;color:#fff;letter-spacing:-0.4px;left:83.5px;">1D</div>
<div class="t" style="top:384.03px;font-size:10.6px;color:#fff;left:184px;">2</div>
<div class="t" style="top:384.03px;font-size:10.6px;color:#fff;left:284px;">Frequency</div>
<div class="t" style="top:384.03px;font-size:10.6px;color:#fff;left:384px;">51.008700 MHz</div>
<div class="t" style="top:384.03px;font-size:10.6px;color:#fff;letter-spacing:-0.1px;left:534px;">25.00 dBm</div>
<div class="t" style="top:407.03px;font-size:10.6px;color:#fff;letter-spacing:-0.4px;left:83.5px;">2D</div>
<div class="t" style="top:407.03px;font-size:10.6px;color:#fff;left:184px;">3</div>
<div class="t" style="top:407.03px;font-size:10.6px;color:#fff;left:284px;">Frequency</div>
<div class="t" style="top:407.03px;font-size:10.6px;color:#fff;left:384px;">51.004100 MHz</div>
<div class="t" style="top:407.03px;font-size:10.6px;color:#fff;letter-spacing:-0.1px;left:534px;">24.97 dBm</div>
<div class="t" style="top:9.30px;font-size:15px;color:#fff;font-weight:bold;left:647px;width:200px;text-align:center;">Marker</div>
<div class="t" style="top:39.30px;font-size:15px;color:#dcdcdc;font-weight:bold;left:648px;width:200px;text-align:center;">Select Mkr</div>
<div class="t" style="top:65.04px;font-size:12px;color:#a8a8a8;font-weight:bold;left:612.2px;width:200px;text-align:center;">1</div>
<div class="t" style="top:65.04px;font-size:12px;color:#000;font-weight:bold;left:636.2px;width:200px;text-align:center;">2</div>
<div class="t" style="top:65.04px;font-size:12px;color:#a8a8a8;font-weight:bold;left:660.2px;width:200px;text-align:center;">3</div>
<div class="t" style="top:65.04px;font-size:12px;color:#a8a8a8;font-weight:bold;left:684.2px;width:200px;text-align:center;">4</div>
<div class="t" style="top:114.30px;font-size:15px;color:#fff;font-weight:bold;letter-spacing:-0.5px;left:648px;width:200px;text-align:center;">Normal</div>
<div class="t" style="top:175.50px;font-size:15px;color:#dcdcdc;font-weight:bold;letter-spacing:0.2px;left:649px;width:200px;text-align:center;">Delta</div>
<div class="t" style="top:221.80px;font-size:15px;color:#dcdcdc;font-weight:bold;left:648.5px;width:200px;text-align:center;">Delta Pair</div>
<div class="t" style="top:248.34px;font-size:12px;color:#909090;font-weight:bold;left:626px;width:200px;text-align:center;">Ref</div>
<div class="t" style="top:248.34px;font-size:12px;color:#000;font-weight:bold;left:673px;width:200px;text-align:center;">Delta</div>
<div class="t" style="top:282.80px;font-size:15px;color:#dcdcdc;font-weight:bold;left:648.5px;width:200px;text-align:center;">Span Pair</div>
<div class="t" style="top:309.34px;font-size:12px;color:#909090;font-weight:bold;left:626px;width:200px;text-align:center;">Span</div>
<div class="t" style="top:309.34px;font-size:12px;color:#000;font-weight:bold;left:673px;width:200px;text-align:center;">Center</div>
<div class="t" style="top:358.30px;font-size:15px;color:#dcdcdc;font-weight:bold;left:648px;width:200px;text-align:center;">Off</div>
<div class="t" style="top:404.90px;font-size:15px;color:#dcdcdc;font-weight:bold;letter-spacing:0.15px;left:648px;width:200px;text-align:center;">Mkr Trace</div>
<div class="t" style="top:433.84px;font-size:12px;color:#dcdcdc;font-weight:bold;left:648px;width:200px;text-align:center;">3</div>
<div class="t" style="top:459.90px;font-size:15px;color:#dcdcdc;letter-spacing:-0.6px;left:647.5px;width:200px;text-align:center;">1/2</div>
<div class="t" style="top:75.44px;font-size:10px;color:#28d840;letter-spacing:0.2px;left:-72.6px;width:200px;text-align:center;-webkit-text-stroke:0.15px #28d840;">Peak</div>
<div class="t" style="top:103.30px;font-size:10px;color:#22a840;font-weight:bold;font-style:italic;letter-spacing:-0.3px;font-family:'Liberation Serif', serif;left:-73.6px;width:200px;text-align:center;">TRIG</div>
<div class="t" style="top:114.88px;font-size:10.3px;color:#ffff20;left:-73.6px;width:200px;text-align:center;-webkit-text-stroke:0.15px #ffff20;">Free</div>
<div class="t" style="top:144.88px;font-size:10.5px;color:#22a840;font-weight:bold;font-style:italic;letter-spacing:0.3px;font-family:'Liberation Serif', serif;left:-74.1px;width:200px;text-align:center;">SWP</div>
<div class="t" style="top:156.88px;font-size:10.3px;color:#ffff20;left:-74px;width:200px;text-align:center;-webkit-text-stroke:0.15px #ffff20;">Cont</div>
<div class="t" style="top:201.88px;font-size:10.3px;color:#3a5240;letter-spacing:0.2px;left:-72px;width:200px;text-align:center;">Corr</div>
<div class="t" style="top:245.58px;font-size:9px;color:#3a5240;letter-spacing:0.2px;left:-72.4px;width:200px;text-align:center;">S.T.</div>
<div class="t" style="top:285.14px;font-size:10px;color:#3a5240;letter-spacing:0.5px;left:-71.8px;width:200px;text-align:center;">PA</div>
<div class="t" style="top:327.36px;font-size:9.5px;color:#ffff20;letter-spacing:0.3px;left:-72.4px;width:200px;text-align:center;-webkit-text-stroke:0.15px #ffff20;">C.W.</div>
<div class="t" style="top:369.58px;font-size:9px;color:#ff20ff;letter-spacing:0.05px;left:-72.2px;width:200px;text-align:center;-webkit-text-stroke:0.15px #ff20ff;">Max H</div>
<div class="t" style="top:411.38px;font-size:9px;color:#20ffff;letter-spacing:0.15px;left:-71.9px;width:200px;text-align:center;-webkit-text-stroke:0.15px #20ffff;">Min H</div>
<div class="t" style="top:453.96px;font-size:9.5px;color:#3a5240;letter-spacing:0.6px;left:-72px;width:200px;text-align:center;">Math</div>
</body></html>
